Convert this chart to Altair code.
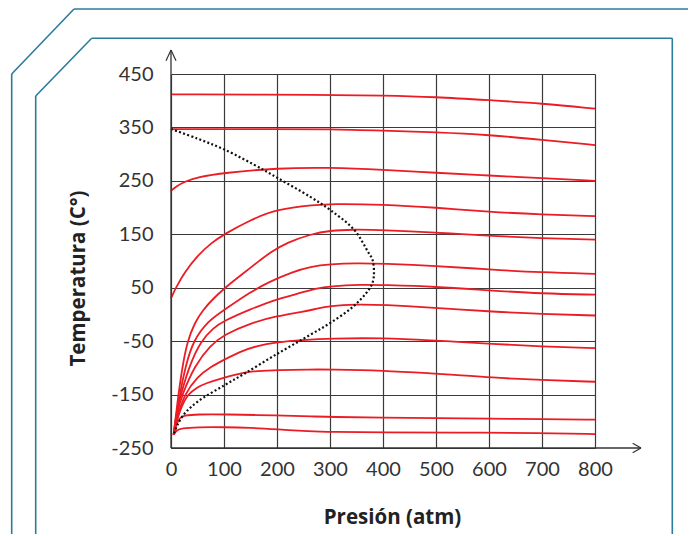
import altair as alt
import pandas as pd

# ---- data ----
p1 = [0, 300, 400, 500, 600, 700, 800]
t1 = [412, 411, 410, 407, 401, 395, 385]

p2 = [0, 200, 300, 400, 500, 600, 700, 800]
t2 = [347, 347, 347, 344, 341, 336, 327, 317]

p3 = [0, 10, 27, 50, 100, 200, 300, 400, 500, 600, 700, 800]
t3 = [231, 240, 249, 257, 265, 274, 275, 271, 265, 260, 255, 250]

p4 = [0, 5, 10, 25, 50, 75, 100, 150, 200, 272, 300, 400, 500, 600, 700, 800]
t4 = [30, 41, 51, 78, 110, 133, 150, 177, 197, 205, 207, 206, 200, 192, 187, 184]

p5 = [5, 13.8, 22, 31, 45, 60, 80, 100, 116, 140, 169, 187, 220, 263, 300, 342, 400, 500, 537, 600, 700, 800]
t5 = [-225, -150, -95, -50, -15, 8, 30, 48, 61, 80, 102, 116, 135, 150, 157, 159, 158, 153, 151, 147, 142.5, 140]

p6 = [5, 16, 28, 41.5, 70, 100, 150, 185, 230, 263, 300, 350, 400, 500, 600, 700, 800]
t6 = [-225, -150, -95, -50, -12, 8, 42, 61, 80, 89.5, 94, 96, 95, 91, 84, 78.6, 76]

p7 = [5, 10, 18.5, 35, 56, 80, 100, 150, 200, 248, 272, 300, 360, 400, 500, 600, 700, 800]
t7 = [-225, -185, -150, -95, -50, -25, -12, 10, 29, 41, 48, 53, 56, 55, 52, 45, 39, 37]

p8 = [5, 11, 21, 45, 75, 100, 150, 200, 248, 272, 300, 350, 400, 500, 537, 600, 700, 800]
t8 = [-225, -185, -150, -95, -57, -38, -16, -3, 5, 10, 16, 19, 18, 12.5, 9.5, 5.7, 0.6, -2]

p9 = [5, 12, 25, 50, 75, 100, 130, 160, 200, 248, 300, 400, 500, 537, 600, 700, 800]
t9 = [-225, -190, -150, -116, -98, -85, -70, -59, -52, -48, -45, -44, -49, -51, -55, -60, -63]

p10 = [5, 12, 20, 31, 50, 65, 100, 140, 160, 200, 263, 300, 400, 500, 537, 600, 700, 800]
t10 = [-225, -195, -172, -150, -136, -129, -118, -108, -106, -104, -103, -103, -105, -111, -113, -118, -123, -126]

p11 = [5, 10, 17, 24, 50, 100, 200, 272, 300, 400, 500, 600, 700, 800]
t11 = [-225, -205, -193, -189, -187, -187, -189, -191, -192, -193, -194, -195, -196, -197]

p12 = [5, 10, 20, 50, 100, 150, 200, 263, 300, 400, 537, 700, 800]
t12 = [-225, -217, -213, -211, -211, -212, -215, -219, -220, -221, -221, -222, -224]

# inversion curve (dotted)
pinv = [0, 50, 100, 172, 200, 263, 301, 345, 373, 380, 383, 381, 373, 344, 302, 263, 200, 140, 100, 52, 27, 12, 5]
tinv = [347, 329, 309, 272, 256, 220, 195, 159, 115, 103, 80, 62, 46, 15, -15, -38, -74, -110, -133, -162, -184, -207, -225]

x_ticks = [0, 100, 200, 300, 400, 500, 600, 700, 800]
y_ticks = [-250, -150, -50, 50, 150, 250, 350, 450]

# ---- tables ----
curves = [(p1, t1), (p2, t2), (p3, t3), (p4, t4), (p5, t5), (p6, t6),
          (p7, t7), (p8, t8), (p9, t9), (p10, t10), (p11, t11), (p12, t12)]
rows = []
for ci, (ps, ts) in enumerate(curves):
    for i, (p, t) in enumerate(zip(ps, ts)):
        rows.append({"p": p, "t": t, "curve": ci, "idx": i})
df_red = pd.DataFrame(rows)
df_inv = pd.DataFrame({"p": pinv, "t": tinv, "idx": list(range(len(pinv)))})

GRID = "#3a3a3a"
LBL = dict(labelFont="Lato", labelFontSize=20, labelColor="#333", labelFlush=False,
           labelExpr="'' + datum.value")
TTL = dict(titleFont="Open Sans", titleFontWeight="bold", titleFontSize=20.5,
           titleColor="#222", titleBaseline="middle", titleAlign="center")
x_enc = alt.X("p:Q", scale=alt.Scale(domain=[0, 800], nice=False, zero=False),
              axis=alt.Axis(values=x_ticks, title="Presión (atm)", grid=True,
                            gridColor=GRID, gridWidth=1.2, domain=False, ticks=False,
                            labelPadding=11, titleX=221, titleY=69, **LBL, **TTL))
y_enc = alt.Y("t:Q", scale=alt.Scale(domain=[-250, 450], nice=False, zero=False),
              axis=alt.Axis(values=y_ticks, title="Temperatura (C°)", grid=True,
                            gridColor=GRID, gridWidth=1.2, domain=False, ticks=False,
                            labelPadding=18, titleX=-93, titleY=204, titleAngle=270,
                            **LBL, **TTL))

red = alt.Chart(df_red).mark_line(color="#ec1c24", strokeWidth=1.8,
                                  interpolate="basis").encode(
    x=x_enc, y=y_enc, detail="curve:N", order="idx:Q")

inv = alt.Chart(df_inv).mark_line(color="#111", strokeWidth=2.2, strokeDash=[2, 2.3],
                                  interpolate="catmull-rom").encode(
    x=x_enc, y=y_enc, order="idx:Q")

one = pd.DataFrame({"a": [0]})


def seg(xa, ya, xb, yb, color, width):
    return alt.Chart(one).mark_rule(color=color, strokeWidth=width).encode(
        x=alt.value(xa), y=alt.value(ya), x2=alt.value(xb), y2=alt.value(yb))


TEAL = "#2b7b9c"
AX = "#333333"
deco = [
    # outer frame
    seg(-97, -65, 540, -65, TEAL, 1.6),
    seg(-159.3, 0, -97, -65, TEAL, 1.6),
    seg(-159.3, 0, -159.3, 480, TEAL, 1.6),
    # inner frame
    seg(-79.3, -35.7, 501.3, -35.7, TEAL, 1.6),
    seg(-135.3, 22, -79.3, -35.7, TEAL, 1.6),
    seg(-135.3, 22, -135.3, 480, TEAL, 1.6),
    seg(501.3, -35.7, 501.3, 480, TEAL, 1.6),
    # axes with arrows
    seg(0, 374, 0, -24, AX, 1.3),
    seg(0, -24, -5, -13.3, AX, 1.2),
    seg(0, -24, 5, -13.3, AX, 1.2),
    seg(0, 374, 470, 374, AX, 1.3),
    seg(470, 374, 461.7, 369.3, AX, 1.2),
    seg(470, 374, 461.7, 378.7, AX, 1.2),
]

chart = alt.layer(red, inv, *deco).properties(
    width=424, height=374,
    padding={"left": 163, "top": 66, "right": 93, "bottom": 86},
    autosize=alt.AutoSizeParams(type="none"),
    background="white",
).configure_view(stroke=None)

chart.save("out.html", embed_options={"renderer": "svg", "actions": False})
